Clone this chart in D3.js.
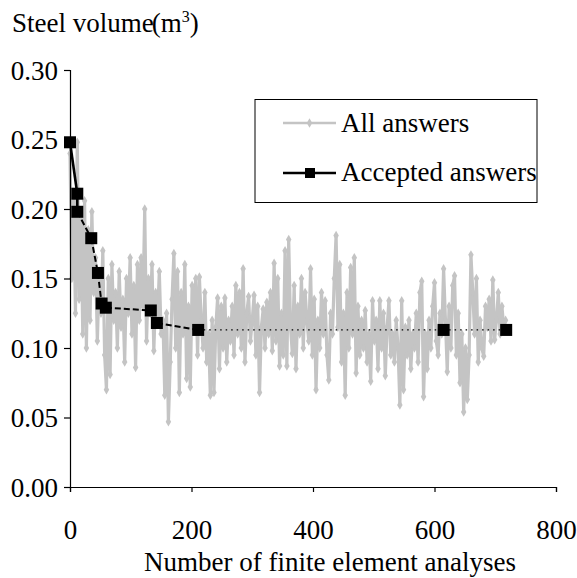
<!DOCTYPE html>
<html>
<head>
<meta charset="utf-8">
<script src="https://cdn.jsdelivr.net/npm/d3@7"></script>
<style>
  html, body { margin: 0; padding: 0; background: #fff; }
  svg text { font-family: "Liberation Serif", "Times New Roman", Times, serif; fill: #000; }
</style>
</head>
<body>
<svg id="chart" width="577" height="578"></svg>
<script>
// ---- Data ----
const xTicks = [0, 200, 400, 600, 800];
const yTicks = [0.00, 0.05, 0.10, 0.15, 0.20, 0.25, 0.30];
const allStep = 3; // analysis number spacing between sampled points
const allAnswers = [
  0.240, 0.150, 0.205, 0.125, 0.248, 0.135, 0.195, 0.110, 0.206, 0.100,
  0.185, 0.120, 0.198, 0.140, 0.165, 0.105, 0.150, 0.125, 0.170, 0.095,
  0.070, 0.150, 0.081, 0.160, 0.120, 0.140, 0.100, 0.155, 0.115, 0.135,
  0.090, 0.150, 0.125, 0.165, 0.110, 0.145, 0.086, 0.160, 0.120, 0.165,
  0.130, 0.200, 0.105, 0.150, 0.125, 0.160, 0.098, 0.140, 0.120, 0.155,
  0.110, 0.120, 0.066, 0.125, 0.047, 0.090, 0.135, 0.168, 0.100, 0.155,
  0.068, 0.140, 0.110, 0.160, 0.078, 0.130, 0.072, 0.145, 0.115, 0.150,
  0.095, 0.151, 0.120, 0.100, 0.140, 0.090, 0.110, 0.066, 0.120, 0.068,
  0.115, 0.136, 0.085, 0.130, 0.100, 0.136, 0.090, 0.120, 0.105, 0.130,
  0.095, 0.145, 0.110, 0.140, 0.100, 0.157, 0.090, 0.125, 0.137, 0.105,
  0.120, 0.138, 0.095, 0.130, 0.068, 0.115, 0.128, 0.100, 0.133, 0.110,
  0.140, 0.098, 0.161, 0.105, 0.150, 0.087, 0.125, 0.095, 0.170, 0.087,
  0.178, 0.115, 0.096, 0.145, 0.085, 0.130, 0.110, 0.150, 0.100, 0.140,
  0.120, 0.105, 0.157, 0.095, 0.135, 0.070, 0.120, 0.100, 0.140, 0.110,
  0.134, 0.095, 0.077, 0.125, 0.110, 0.150, 0.181, 0.115, 0.160, 0.090,
  0.125, 0.066, 0.140, 0.100, 0.158, 0.110, 0.165, 0.082, 0.130, 0.095,
  0.120, 0.100, 0.127, 0.090, 0.110, 0.076, 0.134, 0.105, 0.120, 0.085,
  0.134, 0.100, 0.125, 0.080, 0.115, 0.134, 0.095, 0.110, 0.090, 0.120,
  0.100, 0.059, 0.134, 0.070, 0.115, 0.095, 0.120, 0.085, 0.110, 0.100,
  0.125, 0.090, 0.140, 0.148, 0.065, 0.110, 0.085, 0.120, 0.100, 0.130,
  0.147, 0.105, 0.095, 0.125, 0.110, 0.157, 0.120, 0.083, 0.130, 0.100,
  0.145, 0.152, 0.095, 0.125, 0.075, 0.110, 0.054, 0.100, 0.063, 0.095,
  0.167, 0.140, 0.110, 0.150, 0.090, 0.120, 0.100, 0.094, 0.130, 0.115,
  0.135, 0.105, 0.149, 0.106, 0.120, 0.140, 0.110, 0.130, 0.115, 0.120
];
const acceptedX = [0, 12, 12, 35, 46, 52, 59, 133, 143, 211, 615, 718];
const acceptedY = [0.248, 0.211, 0.198, 0.179, 0.154, 0.132, 0.129, 0.127, 0.118, 0.113, 0.113, 0.113];

// ---- Layout ----
const svg = d3.select("#chart");
const margin = { left: 70, right: 21, top: 70, bottom: 91 };
const W = 577, H = 578;
const x = d3.scaleLinear().domain([0, 800]).range([margin.left, W - margin.right]);
const y = d3.scaleLinear().domain([0, 0.30]).range([H - margin.bottom, margin.top]);
const FS = 27;

// ---- Series: All answers ----
const allData = allAnswers.map((v, i) => ({ x: i * allStep, y: v }));
const grey = "#c4c4c4";
const lineGen = d3.line().x(d => x(d.x)).y(d => y(d.y));
svg.append("path").datum(allData)
  .attr("d", lineGen).attr("fill", "none")
  .attr("stroke", grey).attr("stroke-width", 3.2).attr("stroke-linejoin", "round");
const diamond = d3.symbol().type(d3.symbolDiamond).size(26);
svg.append("g").selectAll("path").data(allData).join("path")
  .attr("d", diamond).attr("transform", d => `translate(${x(d.x)},${y(d.y)})`)
  .attr("fill", grey);

// ---- Series: Accepted answers ----
const acc = acceptedX.map((v, i) => ({ x: v, y: acceptedY[i] }));
const segs = d3.pairs(acc);
svg.append("g").selectAll("line").data(segs).join("line")
  .attr("x1", d => x(d[0].x)).attr("y1", d => y(d[0].y))
  .attr("x2", d => x(d[1].x)).attr("y2", d => y(d[1].y))
  .attr("stroke", "#000")
  .attr("stroke-width", (d, i) => i < 2 ? 2.6 : (d[0].x >= 200 ? 1.3 : 2))
  .attr("stroke-dasharray", (d, i) => i < 2 ? null : (d[0].x >= 200 ? "1.5,4" : "6,3"));
svg.append("g").selectAll("rect").data(acc).join("rect")
  .attr("x", d => x(d.x) - 6).attr("y", d => y(d.y) - 6)
  .attr("width", 12).attr("height", 12).attr("fill", "#000");

// ---- Axes ----
const xAxis = d3.axisBottom(x).tickValues(xTicks).tickSize(5).tickPadding(28).tickFormat(d3.format("d"));
const gx = svg.append("g").attr("transform", `translate(0,${y(0)})`).call(xAxis);
const yAxis = d3.axisLeft(y).tickValues(yTicks).tickSize(6).tickPadding(6).tickFormat(d3.format(".2f"));
const gy = svg.append("g").attr("transform", `translate(${x(0)},0)`).call(yAxis);
[gx, gy].forEach(g => {
  g.select(".domain").attr("stroke", "#000").attr("stroke-width", 1.2);
  g.selectAll(".tick line").attr("stroke", "#000").attr("stroke-width", 1.2);
  g.selectAll("text").attr("font-size", FS).attr("font-family", "Liberation Serif");
});
gx.selectAll("text").attr("dy", "0.71em");
gy.selectAll("text").attr("dy", "0.35em");

// ---- Titles ----
svg.append("text").attr("x", (x(0) + x(800)) / 2 + 17).attr("y", 571)
  .attr("text-anchor", "middle").attr("font-size", FS)
  .text("Number of finite element analyses");

const yt = svg.append("text").attr("x", 12).attr("y", 32).attr("font-size", FS);
yt.append("tspan").text("Steel volume");
yt.append("tspan").attr("dx", -2).text("(m");
yt.append("tspan").attr("font-size", 16).attr("dy", -10).text("3");
yt.append("tspan").attr("dy", 10).text(")");

// ---- Legend ----
const lg = svg.append("g");
lg.append("rect").attr("x", 255).attr("y", 99.5).attr("width", 282).attr("height", 103)
  .attr("fill", "#fff").attr("stroke", "#000").attr("stroke-width", 1);
lg.append("line").attr("x1", 283).attr("x2", 336).attr("y1", 123).attr("y2", 123)
  .attr("stroke", grey).attr("stroke-width", 2.6);
lg.append("path").attr("d", diamond).attr("transform", "translate(309.5,123)").attr("fill", grey);
lg.append("text").attr("x", 341).attr("y", 132).attr("font-size", FS).text("All answers");
lg.append("line").attr("x1", 283).attr("x2", 336).attr("y1", 173).attr("y2", 173)
  .attr("stroke", "#000").attr("stroke-width", 2.6);
lg.append("rect").attr("x", 305).attr("y", 168).attr("width", 10).attr("height", 10).attr("fill", "#000");
lg.append("text").attr("x", 341).attr("y", 181).attr("font-size", FS).text("Accepted answers");
</script>
</body>
</html>
